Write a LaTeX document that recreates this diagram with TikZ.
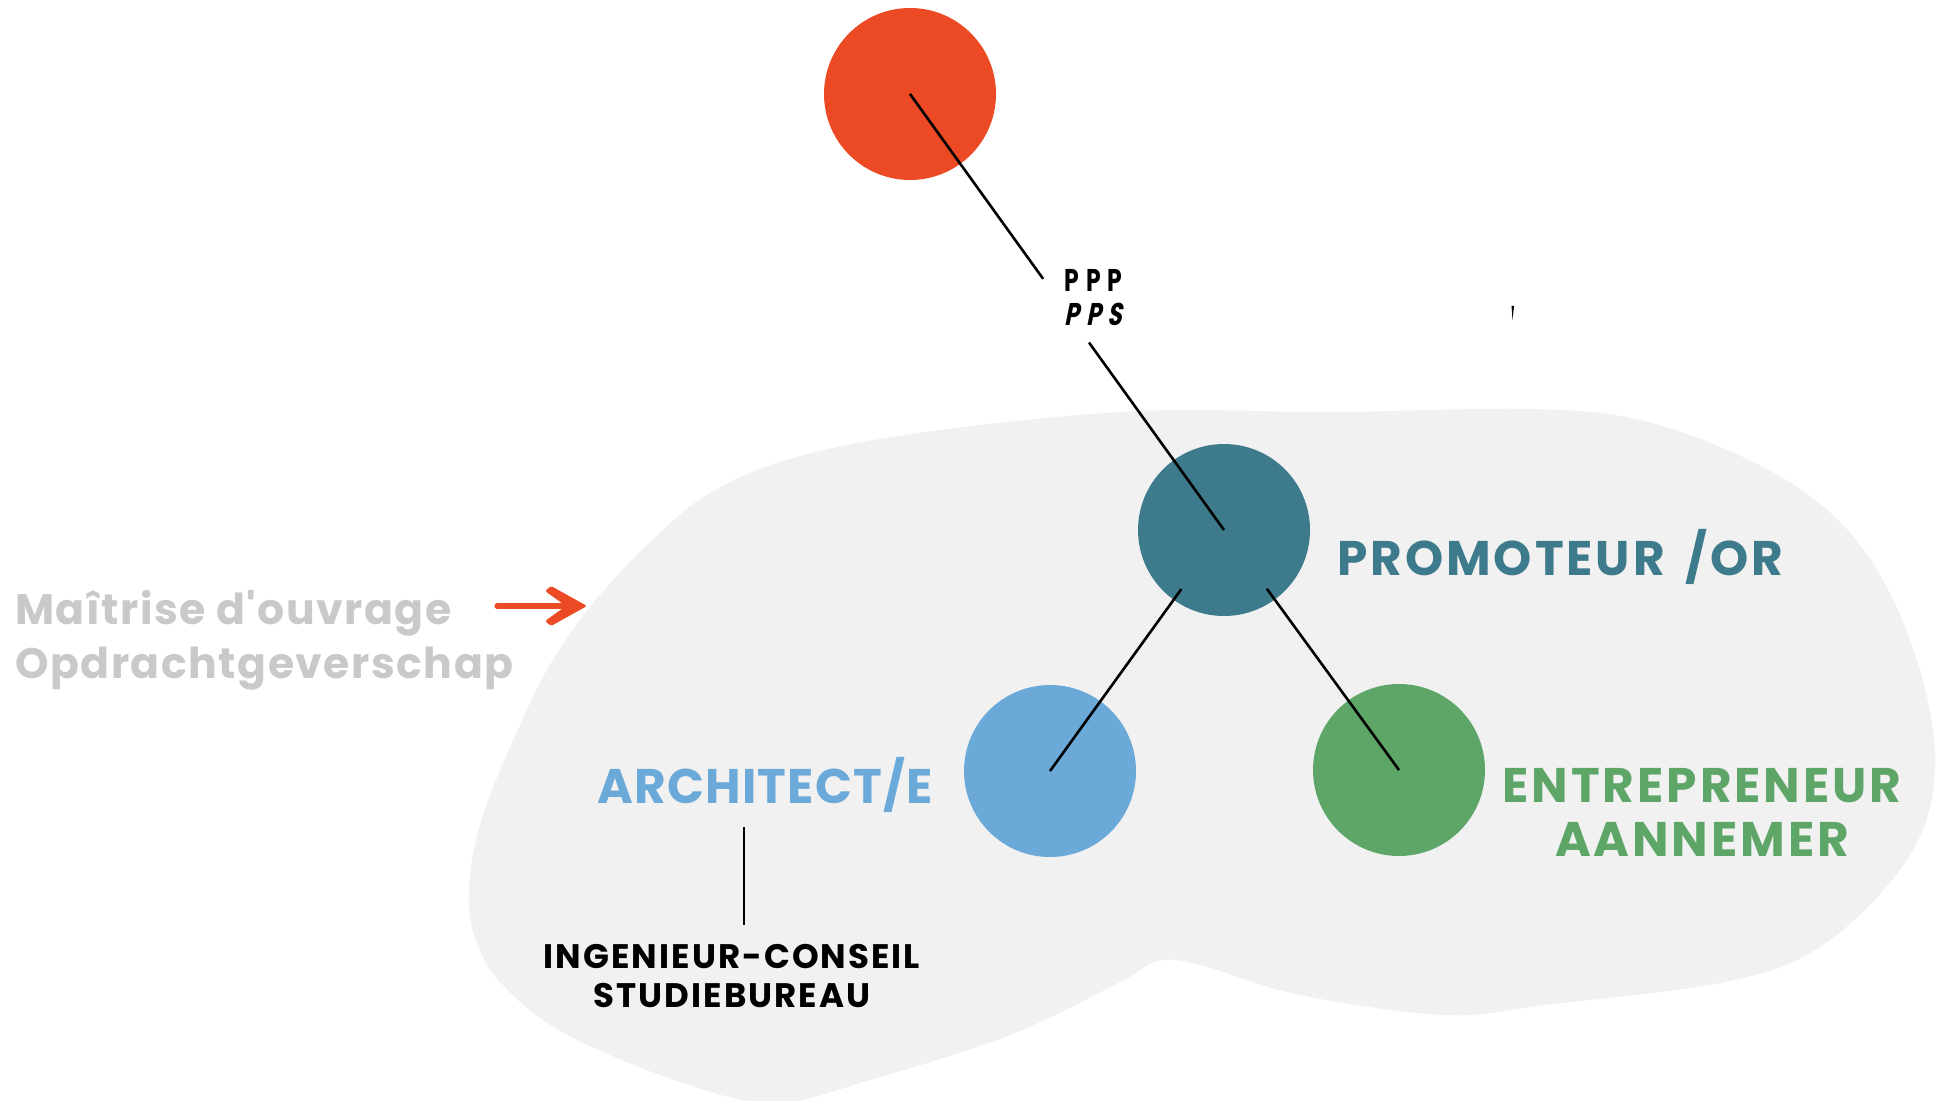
\documentclass[tikz,border=0pt]{standalone}
\usepackage{fontspec}
\setmainfont{Poppins}
\newfontfamily\labfont{Poppins}[LetterSpace=6]
\newfontfamily\arcfont{Poppins}[LetterSpace=2.5]
\newfontfamily\grayfont{Poppins}[LetterSpace=3.5]
\newfontfamily\pppfont{Poppins}[FakeStretch=0.75,LetterSpace=22]
\newfontfamily\ppsfont{Poppins}[FakeStretch=0.75,FakeSlant=0.2,LetterSpace=22]
\newfontfamily\ingfont{Poppins}[LetterSpace=6]
\usetikzlibrary{calc}
\definecolor{redc}{HTML}{EC4A24}
\definecolor{tealc}{HTML}{3D7A8B}
\definecolor{bluec}{HTML}{6BA9D9}
\definecolor{greenc}{HTML}{5EA668}
\definecolor{grayt}{HTML}{C9C9C9}
\definecolor{blobc}{HTML}{F1F1F1}
\tikzset{
  circ/.style={circle, minimum size=86pt, inner sep=0pt, draw=none},
  conn/.style={draw=black, line width=1.3pt},
  biglab/.style={inner sep=0pt, font=\labfont\bfseries\fontsize{24.3pt}{29pt}\selectfont},
  arclab/.style={inner sep=0pt, font=\arcfont\bfseries\fontsize{24.3pt}{29pt}\selectfont},
  graylab/.style={inner sep=0pt, text=grayt, font=\grayfont\bfseries\fontsize{21.3pt}{26pt}\selectfont},
  ppplab/.style={inner sep=0pt, text=black, font=\pppfont\bfseries\fontsize{15.7pt}{18pt}\selectfont},
  ppslab/.style={inner sep=0pt, text=black, font=\ppsfont\bfseries\fontsize{15.7pt}{18pt}\selectfont},
  inglab/.style={inner sep=0pt, text=black, font=\ingfont\bfseries\fontsize{17pt}{20pt}\selectfont},
}
\begin{document}
\begin{tikzpicture}[x=0.5pt,y=-0.5pt]
\useasboundingbox (0,0) rectangle (1941,1101);
% blob
\fill[blobc] plot[smooth cycle, tension=0.6] coordinates {
 (469,890) (476,840) (492,790) (520,725) (548,668) (590,607) (645,547) (710,493) (800,456)
 (940,430) (1140,411) (1330,412) (1530,409) (1640,420) (1745,458) (1825,508)
 (1880,575) (1920,670) (1935,770) (1910,855) (1830,940) (1735,980) (1545,1005)
 (1445,1015) (1300,995) (1200,965) (1158,961) (1120,982) (1010,1035) (870,1080)
 (775,1103) (680,1082) (564,1033) (500,982) (474,935)};
% tiny mark
\fill[black] (1511.5,306) -- (1514,306) -- (1512.5,320) -- cycle;
% circles
\node[circ, fill=redc] (red) at (910,94) {};
\node[circ, fill=tealc] (prom) at (1224,530) {};
\node[circ, fill=bluec] (arc) at (1050,771) {};
\node[circ, fill=greenc] (ent) at (1399,770) {};
% connectors
\draw[conn] (red.center) -- ($(red.center)!0.424!(prom.center)$);
\draw[conn] ($(red.center)!0.57!(prom.center)$) -- (prom.center);
\draw[conn] ($(arc.center)!0.755!(prom.center)$) -- (arc.center);
\draw[conn] ($(ent.center)!0.755!(prom.center)$) -- (ent.center);
% labels
\node[ppplab, anchor=base west] (ppp) at (1064,292) {PPP};
\node[ppslab, anchor=base west] (pps) at (1064,326) {PPS};
\node[biglab, text=tealc, anchor=base west] (promlab) at (1337,575) {PROMOTEUR \hspace{4pt}/OR};
\node[arclab, text=bluec, anchor=base west] (arclab) at (597,803) {ARCHITECT/E};
\node[biglab, text=greenc, anchor=base] (entlab1) at (1702,802) {ENTREPRENEUR};
\node[biglab, text=greenc, anchor=base] (entlab2) at (1702,856) {AANNEMER};
\node[graylab, anchor=base west] (mo1) at (15,624) {Maîtrise d'ouvrage};
\node[graylab, anchor=base west] (mo2) at (15,678) {Opdrachtgeverschap};
\node[inglab, anchor=base] (ing1) at (732,968) {INGENIEUR-CONSEIL};
\node[inglab, anchor=base] (ing2) at (732,1007) {STUDIEBUREAU};
% vertical link
\coordinate (vt) at (744,827);
\coordinate (vb) at (744,925);
\draw[line width=1pt] (vt) -- (vb);
% arrow
\coordinate (arS) at (497,606);
\coordinate (arT) at (587,606);
\draw[redc, line width=2.6pt, line cap=round] (arS) -- ($(arS)!0.8!(arT)$);
\fill[redc, rounded corners=0.8pt] (551,586) -- (arT) -- (551,626) -- (545,621) -- (566,606) -- (545,591) -- cycle;
\end{tikzpicture}
\end{document}
